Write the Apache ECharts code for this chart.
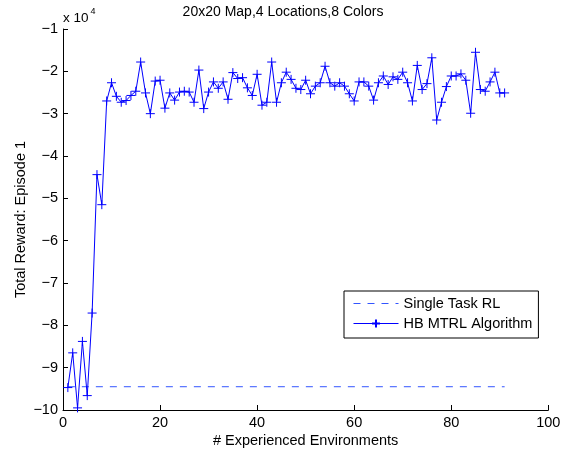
<!DOCTYPE html>
<html><head><meta charset="utf-8">
<script src="https://cdn.jsdelivr.net/npm/echarts@6/dist/echarts.min.js"></script>
<style>html,body{margin:0;padding:0;background:#fff}#c{width:564px;height:451px}</style>
</head><body><div id="c"></div>
<script>
const titleText = '20x20 Map,4 Locations,8 Colors';
const xName = '# Experienced Environments';
const yName = 'Total Reward: Episode 1';
const seriesNames = ['Single Task RL', 'HB MTRL Algorithm'];
const scaleBase = 'x 10';
const scaleExp = '4';
const episodes = [1,2,3,4,5,6,7,8,9,10,11,12,13,14,15,16,17,18,19,20,21,22,23,24,25,26,27,28,29,30,31,32,33,34,35,36,37,38,39,40,41,42,43,44,45,46,47,48,49,50,51,52,53,54,55,56,57,58,59,60,61,62,63,64,65,66,67,68,69,70,71,72,73,74,75,76,77,78,79,80,81,82,83,84,85,86,87,88,89,90,91];
// values in units of 10^4
const hbmtrl = [-9.47,-8.65,-9.95,-8.38,-9.66,-7.71,-4.44,-5.15,-2.70,-2.27,-2.59,-2.73,-2.69,-2.57,-2.47,-1.78,-2.51,-3.00,-2.23,-2.21,-2.87,-2.51,-2.68,-2.49,-2.47,-2.49,-2.73,-1.97,-2.88,-2.49,-2.25,-2.40,-2.25,-2.66,-2.03,-2.17,-2.15,-2.39,-2.57,-2.07,-2.80,-2.73,-1.78,-2.73,-2.27,-2.02,-2.19,-2.40,-2.43,-2.21,-2.53,-2.35,-2.27,-1.88,-2.27,-2.35,-2.27,-2.35,-2.53,-2.70,-2.25,-2.25,-2.35,-2.68,-2.27,-2.11,-2.31,-2.13,-2.19,-2.02,-2.27,-2.70,-1.86,-2.43,-2.29,-1.68,-3.15,-2.73,-2.36,-2.11,-2.11,-2.06,-2.21,-2.99,-1.55,-2.43,-2.47,-2.25,-2.02,-2.51,-2.51];
const singleX = [1, 91];
const singleY = [-9.45, -9.45];
const xTicks = [0, 20, 40, 60, 80, 100];
const yTicks = [-10, -9, -8, -7, -6, -5, -4, -3, -2, -1];

const FONT = 'Liberation Sans';
const FS = 14.5;
const plus = 'path://M0,5L10,5M5,0L5,10';
const chart = echarts.init(document.getElementById('c'));
chart.setOption({
  animation: false,
  backgroundColor: '#fff',
  textStyle: {fontFamily: FONT},
  title: {text: titleText, left: 283, textAlign: 'center', top: 5.5, padding: 0,
    textStyle: {fontFamily: FONT, fontSize: 14, fontWeight: 'normal', color: '#000'}},
  grid: {left: 63, right: 15.7, top: 29, bottom: 41, containLabel: false, outerBoundsMode: 'none'},
  xAxis: {type: 'value', min: xTicks[0], max: xTicks[xTicks.length-1], interval: 20,
    name: xName, nameLocation: 'middle', nameGap: 23, nameMoveOverlap: false,
    nameTextStyle: {fontFamily: FONT, fontSize: FS, color: '#000'},
    axisLine: {onZero: false, lineStyle: {color: '#000', width: 1}},
    axisTick: {inside: true, length: 5, lineStyle: {color: '#000'}},
    axisLabel: {fontFamily: FONT, fontSize: FS, color: '#000', margin: 5},
    splitLine: {show: false}},
  yAxis: {type: 'value', min: yTicks[0], max: yTicks[yTicks.length-1], interval: 1,
    name: yName, nameLocation: 'middle', nameGap: 35, nameRotate: 90, nameMoveOverlap: false,
    nameTextStyle: {fontFamily: FONT, fontSize: FS, color: '#000'},
    axisLine: {show: true, onZero: false, lineStyle: {color: '#000', width: 1}},
    axisTick: {show: true, inside: true, length: 5, lineStyle: {color: '#000'}},
    axisLabel: {fontFamily: FONT, fontSize: FS, color: '#000', margin: 5,
      formatter: v => String(v).replace('-', '\u2212')},
    splitLine: {show: false}},
  legend: {orient: 'vertical', left: 344, top: 291,
    backgroundColor: '#fff', borderColor: '#000', borderWidth: 1,
    padding: [5, 6, 7, 9], itemGap: 5, itemWidth: 45, itemHeight: 10,
    textStyle: {fontFamily: FONT, fontSize: FS, color: '#000'},
    data: [
      {name: seriesNames[0], itemStyle: {opacity: 0}, lineStyle: {width: 1}},
      {name: seriesNames[1], lineStyle: {width: 1}}
    ]},
  graphic: [
    {type: 'text', x: 63, y: 18,
      style: {text: scaleBase, fill: '#000', font: '13.5px "Liberation Sans"', verticalAlign: 'middle', align: 'left'}},
    {type: 'text', x: 90.5, y: 12,
      style: {text: scaleExp, fill: '#000', font: '9px "Liberation Sans"', verticalAlign: 'middle', align: 'left'}}
  ],
  series: [
    {name: seriesNames[0], type: 'line', data: singleX.map((x, i) => [x, singleY[i]]),
      showSymbol: false, symbol: 'none', color: '#3355ff',
      lineStyle: {color: '#3355ff', width: 1, type: [7, 7]}},
    {name: seriesNames[1], type: 'line', data: episodes.map((x, i) => [x, hbmtrl[i]]),
      symbol: plus, symbolSize: 9, color: '#0000ff',
      itemStyle: {color: '#0000ff', borderColor: '#0000ff', borderWidth: 1},
      lineStyle: {color: '#0000ff', width: 1}}
  ]
});
</script></body></html>
